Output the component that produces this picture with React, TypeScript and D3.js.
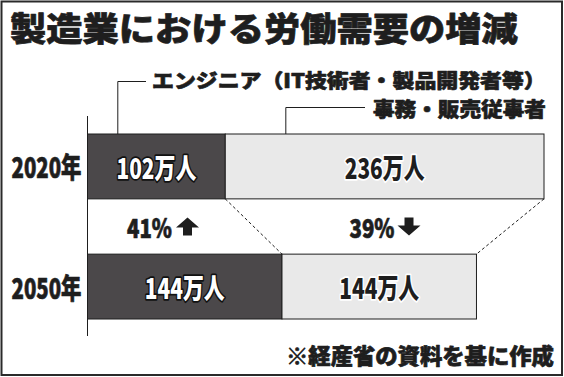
import React, { useLayoutEffect, useRef, useState } from "react";
import * as d3 from "d3";

const years = ["2020年", "2050年"];
const engineers = [102, 144];
const clerical = [236, 144];
const seriesNames = ["エンジニア（IT技術者・製品開発者等）", "事務・販売従事者"];
const title = "製造業における労働需要の増減";
const footnote = "※経産省の資料を基に作成";

const W = 564;
const H = 377;
const DARK = "#4b484a";
const LIGHT = "#e9e9e9";
const INK = "#1e1e1e";
const FONT = "'Noto Sans CJK JP', 'Noto Sans', sans-serif";

type FitProps = {
  x: number;
  y: number;
  width: number;
  anchor?: "start" | "middle" | "end";
  fontSize: number;
  fill?: string;
  stroke?: string;
  strokeWidth?: number;
  children: React.ReactNode;
};

function FitText({ x, y, width, anchor = "start", fontSize, fill = INK, stroke = INK, strokeWidth = 0.7, children }: FitProps) {
  const ref = useRef<SVGTextElement>(null);
  const [s, setS] = useState(1);
  useLayoutEffect(() => {
    if (ref.current) {
      const w = ref.current.getComputedTextLength();
      if (w > 0) setS(width / w);
    }
  }, [width, fontSize, children]);
  return (
    <g transform={`translate(${x},${y}) scale(${s},1)`}>
      <text
        ref={ref}
        x={0}
        y={0}
        textAnchor={anchor}
        dominantBaseline="central"
        fontFamily={FONT}
        fontWeight={900}
        fontSize={fontSize}
        fill={fill}
        stroke={stroke}
        strokeWidth={strokeWidth}
        paintOrder="stroke"
        strokeLinejoin="round"
      >
        {children}
      </text>
    </g>
  );
}

function Arrow({ x, y, up }: { x: number; y: number; up: boolean }) {
  const w = 23, h = 18, stem = 9, head = 10;
  const s = up ? 1 : -1;
  const top = y - (s * h) / 2;
  const pts = [
    [x, top],
    [x + w / 2, top + s * head],
    [x + stem / 2, top + s * head],
    [x + stem / 2, top + s * h],
    [x - stem / 2, top + s * h],
    [x - stem / 2, top + s * head],
    [x - w / 2, top + s * head],
  ];
  return <polygon points={pts.map((p) => p.join(",")).join(" ")} fill={INK} />;
}

export default function App() {
  const total = d3.max(engineers.map((e, i) => e + clerical[i])) as number;
  const x = d3.scaleLinear().domain([0, total]).range([87.5, 544]);
  const y = d3.scaleBand<string>().domain(years).range([134, 319]).paddingInner(0.46).paddingOuter(0);
  const bw = y.bandwidth();

  const y0 = y(years[0]) as number;
  const y1 = y(years[1]) as number;

  const engChange = Math.round(((engineers[1] - engineers[0]) / engineers[0]) * 100);
  const cleChange = Math.round(((clerical[0] - clerical[1]) / clerical[0]) * 100);

  const midY = (y0 + bw + y1) / 2;

  return (
    <svg width={W} height={H} style={{ position: "absolute", left: 0, top: 0, background: "#fff" }}>
      <rect x={1.5} y={1.5} width={560.5} height={373.5} fill="#fff" stroke="#2a2a2a" strokeWidth={2} />
      <FitText x={10} y={27} width={508} fontSize={33}>{title}</FitText>

      {/* axis line */}
      <line x1={x(0)} x2={x(0)} y1={116} y2={336} stroke={INK} strokeWidth={1} />

      {/* legend leaders */}
      <polyline points={`${x(engineers[0] * 0.22)},${y0} ${x(engineers[0] * 0.22)},81.5 146,81.5`} fill="none" stroke={INK} strokeWidth={1} />
      <FitText x={152} y={79.5} width={394} fontSize={19.5}>{seriesNames[0]}</FitText>
      <polyline points={`${x(engineers[0] + clerical[0] * 0.19)},${y0} ${x(engineers[0] + clerical[0] * 0.19)},107.5 365,107.5`} fill="none" stroke={INK} strokeWidth={1} />
      <FitText x={373} y={108} width={173} fontSize={20}>{seriesNames[1]}</FitText>

      {/* dashed connectors */}
      <line x1={x(engineers[0])} y1={y0 + bw} x2={x(engineers[1])} y2={y1} stroke={INK} strokeWidth={1} strokeDasharray="3,2.5" />
      <line x1={x(engineers[0] + clerical[0])} y1={y0 + bw} x2={x(engineers[1] + clerical[1])} y2={y1} stroke={INK} strokeWidth={1} strokeDasharray="3,2.5" />

      {years.map((yr, i) => {
        const yy = y(yr) as number;
        return (
          <g key={yr}>
            <rect x={x(0)} y={yy} width={x(engineers[i]) - x(0)} height={bw} fill={DARK} stroke={INK} strokeWidth={1} />
            <rect x={x(engineers[i])} y={yy} width={x(engineers[i] + clerical[i]) - x(engineers[i])} height={bw} fill={LIGHT} stroke={INK} strokeWidth={1} />
          </g>
        );
      })}
      {years.map((yr, i) => {
        const yy = y(yr) as number;
        const cy = yy + bw / 2;
        return (
          <g key={"t" + yr}>
            <FitText x={11.5} y={cy} width={70} fontSize={28}>{yr}</FitText>
            <FitText x={(x(0) + x(engineers[i])) / 2} y={cy} width={80} anchor="middle" fontSize={28} fill="#fff" stroke="#111" strokeWidth={3.5}>
              {engineers[i]}万人
            </FitText>
            <FitText x={(x(engineers[i]) + x(engineers[i] + clerical[i])) / 2} y={cy} width={80} anchor="middle" fontSize={28} fill={INK} stroke="#fff" strokeWidth={3.5}>
              {clerical[i]}万人
            </FitText>
          </g>
        );
      })}

      {/* change labels */}
      <FitText x={127} y={midY} width={45} fontSize={26}>{engChange}%</FitText>
      <Arrow x={187.5} y={midY} up={true} />
      <FitText x={349.5} y={midY} width={45} fontSize={26}>{cleChange}%</FitText>
      <Arrow x={409} y={midY} up={false} />

      <FitText x={286} y={354} width={268} fontSize={22}>{footnote}</FitText>
    </svg>
  );
}
